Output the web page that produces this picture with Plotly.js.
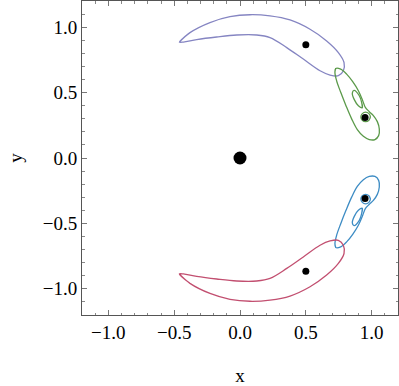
<!DOCTYPE html>
<html>
<head>
<meta charset="utf-8">
<script src="https://cdn.plot.ly/plotly-3.0.1.min.js"></script>
<style>
  html, body { margin: 0; padding: 0; background: #fff; }
  #plot { width: 399px; height: 386px; }
</style>
</head>
<body>
<div id="plot"></div>
<script>
// Closed curves (x, y in data units)
const purpleX = [-0.461, -0.38, -0.228, -0.076, 0.076, 0.228, 0.38, 0.532, 0.658, 0.747, 0.79, 0.785,
  0.747, 0.684, 0.608, 0.481, 0.355, 0.228, 0.127, -0.025, -0.177, -0.329, -0.43, -0.461, -0.38];
const purpleY = [0.886, 0.958, 1.035, 1.08, 1.095, 1.086, 1.055, 0.984, 0.895, 0.806, 0.73, 0.667,
  0.629, 0.634, 0.667, 0.756, 0.844, 0.92, 0.94, 0.94, 0.925, 0.905, 0.886, 0.886, 0.958];

const redX = [-0.461, -0.38, -0.228, -0.076, 0.076, 0.228, 0.38, 0.532, 0.658, 0.747, 0.79, 0.785,
  0.747, 0.684, 0.608, 0.481, 0.355, 0.228, 0.127, -0.025, -0.177, -0.329, -0.43, -0.461, -0.38];
const redY = [-0.886, -0.958, -1.035, -1.08, -1.095, -1.086, -1.055, -0.984, -0.895, -0.806, -0.73, -0.667,
  -0.629, -0.634, -0.667, -0.756, -0.844, -0.92, -0.94, -0.94, -0.925, -0.905, -0.886, -0.886, -0.958];

// blue: outer loop, ring round the point, small inner loop (null separates the pieces)
const blueX = [0.727, 0.721, 0.734, 0.765, 0.805, 0.848, 0.891, 0.937, 0.982, 1.025, 1.053, 1.058, 1.043,
  1.013, 0.982, 0.952, 0.932, 0.899, 0.856, 0.81, 0.765, 0.727, 0.721, null,
  0.99, 0.979, 0.954, 0.929, 0.918, 0.929, 0.954, 0.979, 0.99, 0.979, null,
  0.929, 0.924, 0.906, 0.866, 0.853, 0.868, 0.899, 0.929, 0.924];
const blueY = [-0.684, -0.654, -0.59, -0.502, -0.4, -0.299, -0.217, -0.166, -0.141, -0.141, -0.171, -0.222, -0.278,
  -0.324, -0.354, -0.387, -0.438, -0.514, -0.583, -0.641, -0.679, -0.684, -0.654, null,
  -0.314, -0.289, -0.278, -0.289, -0.314, -0.339, -0.35, -0.339, -0.314, -0.289, null,
  -0.385, -0.425, -0.476, -0.517, -0.496, -0.446, -0.4, -0.385, -0.425];

const greenX = [0.727, 0.721, 0.734, 0.765, 0.805, 0.848, 0.891, 0.937, 0.982, 1.025, 1.053, 1.058, 1.043,
  1.013, 0.982, 0.952, 0.932, 0.899, 0.856, 0.81, 0.765, 0.727, 0.721, null,
  0.99, 0.979, 0.954, 0.929, 0.918, 0.929, 0.954, 0.979, 0.99, 0.979, null,
  0.929, 0.924, 0.906, 0.866, 0.853, 0.868, 0.899, 0.929, 0.924];
const greenY = [0.684, 0.654, 0.59, 0.502, 0.4, 0.299, 0.217, 0.166, 0.141, 0.141, 0.171, 0.222, 0.278,
  0.324, 0.354, 0.387, 0.438, 0.514, 0.583, 0.641, 0.679, 0.684, 0.654, null,
  0.314, 0.289, 0.278, 0.289, 0.314, 0.339, 0.35, 0.339, 0.314, 0.289, null,
  0.385, 0.425, 0.476, 0.517, 0.496, 0.446, 0.4, 0.385, 0.425];

// points
const smallX = [0.5, 0.95, 0.95, 0.5];
const smallY = [0.866, 0.31, -0.31, -0.866];
const centerX = [0];
const centerY = [0];

const FONT = {family: 'Liberation Serif, Times New Roman, serif', size: 19, color: '#000'};

function curve(x, y, color) {
  return {
    x: x, y: y, mode: 'lines',
    line: {color: color, width: 1.3, shape: 'spline', smoothing: 1},
    connectgaps: false, hoverinfo: 'skip', showlegend: false
  };
}

const axisBase = {
  range: [-1.2, 1.2],
  showgrid: false, zeroline: false,
  showline: true, linecolor: '#555', linewidth: 1, mirror: 'ticks',
  ticks: 'inside', ticklen: 5, tickcolor: '#777', tickwidth: 1,
  dtick: 0.5, tick0: 0, tickformat: '.1f',
  minor: {dtick: 0.1, ticks: 'inside', ticklen: 2.5, tickcolor: '#888'},
  tickfont: FONT
};

const data = [
  curve(purpleX, purpleY, '#8585c2'),
  curve(greenX, greenY, '#5b9a4a'),
  curve(blueX, blueY, '#3d8cc4'),
  curve(redX, redY, '#c24f70'),
  {x: smallX, y: smallY, mode: 'markers', marker: {color: '#000', size: 7}, showlegend: false},
  {x: centerX, y: centerY, mode: 'markers', marker: {color: '#000', size: 13}, showlegend: false}
];

const layout = {
  width: 399, height: 386,
  margin: {l: 82, r: 1, t: 1, b: 71},
  paper_bgcolor: '#fff', plot_bgcolor: '#fff',
  font: FONT,
  xaxis: Object.assign({}, axisBase, {title: {text: 'x', font: FONT, standoff: 26}}),
  yaxis: Object.assign({}, axisBase, {title: {text: 'y', font: FONT, standoff: 15}})
};

Plotly.newPlot('plot', data, layout, {displayModeBar: false, staticPlot: true});
</script>
</body>
</html>
